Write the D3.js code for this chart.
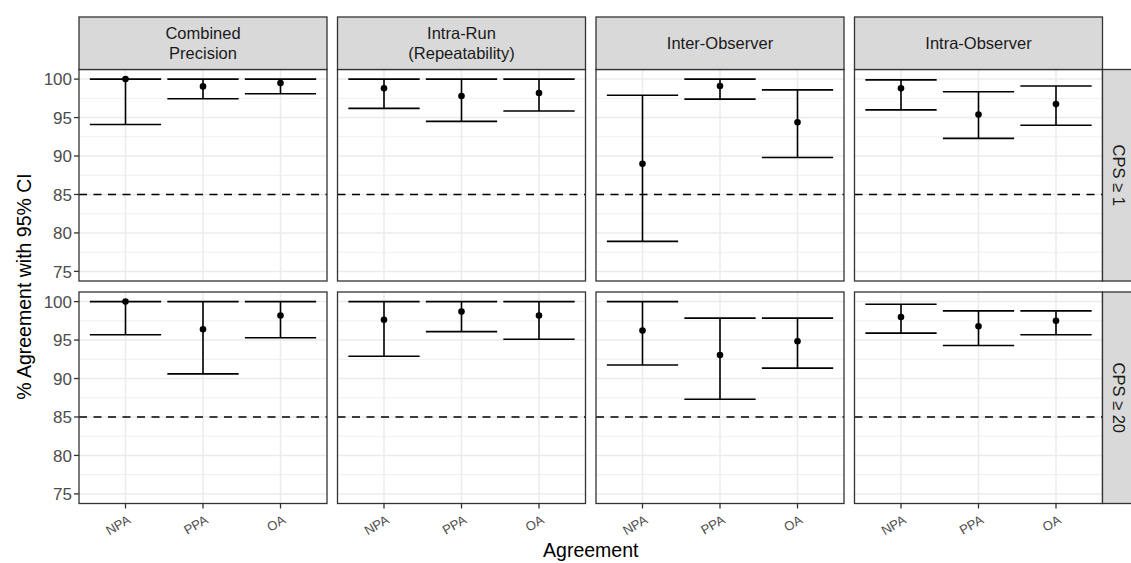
<!DOCTYPE html>
<html><head><meta charset="utf-8">
<script src="https://cdn.jsdelivr.net/npm/d3@7"></script>
<style>body{margin:0;background:#fff}svg{display:block}text{font-family:"Liberation Sans",Arial,sans-serif}</style>
</head><body><svg id="c" width="1131" height="563"></svg>
<script>
// ---- data ----
const facets = ["Combined\nPrecision", "Intra-Run\n(Repeatability)", "Inter-Observer", "Intra-Observer"];
const rowLabels = ["CPS \u2265 1", "CPS \u2265 20"];
const categories = ["NPA", "PPA", "OA"];
const yTicks = [75, 80, 85, 90, 95, 100];
const threshold = 85;
// CPS >= 1 : one inner array per facet, values for NPA, PPA, OA
const estCPS1 = [[100, 99.05, 99.5], [98.8, 97.8, 98.2], [89.0, 99.1, 94.4], [98.8, 95.4, 96.75]];
const lowCPS1 = [[94.1, 97.45, 98.1], [96.2, 94.5, 95.85], [78.9, 97.4, 89.8], [96.0, 92.3, 94.0]];
const upCPS1  = [[100, 100, 100], [100, 100, 100], [97.9, 100, 98.6], [99.9, 98.35, 99.1]];
// CPS >= 20
const estCPS20 = [[100, 96.4, 98.2], [97.65, 98.7, 98.2], [96.25, 93.05, 94.85], [98.0, 96.8, 97.5]];
const lowCPS20 = [[95.7, 90.6, 95.3], [92.9, 96.1, 95.1], [91.75, 87.3, 91.35], [95.9, 94.3, 95.7]];
const upCPS20  = [[100, 100, 100], [100, 100, 100], [100, 97.85, 97.85], [99.65, 98.8, 98.8]];

const rowsData = [
  {est: estCPS1, low: lowCPS1, up: upCPS1},
  {est: estCPS20, low: lowCPS20, up: upCPS20}
];

// ---- layout ----
const svg = d3.select("#c");
const left0 = 79, panelW = 248, gapX = 10.5;
const top0 = 69.5, panelH = 211.5, gapY = 11;
const stripTop = 17;
const rightStripW = 33;

const x = d3.scalePoint().domain(categories).range([0, panelW]).padding(0.6);
const step = x.step();
const capW = 0.92 * step;
const y = d3.scaleLinear().domain([73.75, 101.25]).range([panelH, 0]);
const minorTicks = [77.5, 82.5, 87.5, 92.5, 97.5];

rowsData.forEach((rd, r) => {
  const py = top0 + r * (panelH + gapY);
  facets.forEach((f, c) => {
    const px = left0 + c * (panelW + gapX);
    const g = svg.append("g").attr("transform", `translate(${px},${py})`);
    g.append("rect").attr("width", panelW).attr("height", panelH).attr("fill", "#fff");
    g.selectAll(".mn").data(minorTicks).enter().append("line")
      .attr("x1", 0).attr("x2", panelW).attr("y1", d => y(d)).attr("y2", d => y(d))
      .attr("stroke", "#EBEBEB").attr("stroke-width", 0.8);
    g.selectAll(".mj").data(yTicks).enter().append("line")
      .attr("x1", 0).attr("x2", panelW).attr("y1", d => y(d)).attr("y2", d => y(d))
      .attr("stroke", "#EBEBEB").attr("stroke-width", 1.5);
    g.selectAll(".vx").data(categories).enter().append("line")
      .attr("x1", d => x(d)).attr("x2", d => x(d)).attr("y1", 0).attr("y2", panelH)
      .attr("stroke", "#EBEBEB").attr("stroke-width", 1.5);
    g.append("line").attr("x1", 0).attr("x2", panelW).attr("y1", y(threshold)).attr("y2", y(threshold))
      .attr("stroke", "#000").attr("stroke-width", 1.4).attr("stroke-dasharray", "8,6.5");
    const pts = categories.map((k, i) => ({k, est: rd.est[c][i], lo: rd.low[c][i], hi: rd.up[c][i]}));
    const eb = g.selectAll(".eb").data(pts).enter().append("g");
    eb.append("path")
      .attr("d", d => `M${x(d.k) - capW / 2},${y(d.hi)}H${x(d.k) + capW / 2}M${x(d.k)},${y(d.hi)}V${y(d.lo)}M${x(d.k) - capW / 2},${y(d.lo)}H${x(d.k) + capW / 2}`)
      .attr("fill", "none").attr("stroke", "#000").attr("stroke-width", 1.6);
    eb.append("circle").attr("cx", d => x(d.k)).attr("cy", d => y(d.est)).attr("r", 3.3).attr("fill", "#000");
    g.append("rect").attr("width", panelW).attr("height", panelH).attr("fill", "none")
      .attr("stroke", "#333333").attr("stroke-width", 1.3);
    if (c === 0) {
      const ya = g.append("g");
      ya.selectAll("line").data(yTicks).enter().append("line")
        .attr("x1", -5).attr("x2", 0).attr("y1", d => y(d)).attr("y2", d => y(d))
        .attr("stroke", "#333333").attr("stroke-width", 1.3);
      ya.selectAll("text").data(yTicks).enter().append("text")
        .attr("x", -7).attr("y", d => y(d)).attr("dy", "0.36em").attr("text-anchor", "end")
        .attr("font-size", 17).attr("fill", "#4D4D4D").text(d => d);
    }
    if (r === rowsData.length - 1) {
      const xa = g.append("g").attr("transform", `translate(0,${panelH})`);
      xa.selectAll("line").data(categories).enter().append("line")
        .attr("x1", d => x(d)).attr("x2", d => x(d)).attr("y1", 0).attr("y2", 5)
        .attr("stroke", "#333333").attr("stroke-width", 1.3);
      xa.selectAll("text").data(categories).enter().append("text")
        .attr("transform", d => `translate(${x(d) + 6},${19}) rotate(-30)`)
        .attr("text-anchor", "end").attr("font-size", 13).attr("fill", "#4D4D4D").text(d => d);
    }
    if (r === 0) {
      const sh = top0 - stripTop;
      const s = svg.append("g").attr("transform", `translate(${px},${stripTop})`);
      s.append("rect").attr("width", panelW).attr("height", sh).attr("fill", "#D9D9D9")
        .attr("stroke", "#333333").attr("stroke-width", 1.3);
      const lines = f.split("\n");
      const lh = 20;
      lines.forEach((ln, i) => {
        s.append("text").attr("x", panelW / 2)
          .attr("y", sh / 2 + (i - (lines.length - 1) / 2) * lh)
          .attr("dy", "0.36em").attr("text-anchor", "middle").attr("font-size", 16.5)
          .attr("fill", "#1A1A1A").text(ln);
      });
    }
  });
  const sx = left0 + facets.length * panelW + (facets.length - 1) * gapX;
  const s = svg.append("g").attr("transform", `translate(${sx},${py})`);
  s.append("rect").attr("width", rightStripW).attr("height", panelH).attr("fill", "#D9D9D9")
    .attr("stroke", "#333333").attr("stroke-width", 1.3);
  s.append("text").attr("transform", `translate(${16},${panelH / 2}) rotate(90)`)
    .attr("text-anchor", "middle").attr("dy", "0.36em").attr("font-size", 16.5).attr("fill", "#1A1A1A")
    .text(rowLabels[r]);
});

const totalRight = left0 + facets.length * panelW + (facets.length - 1) * gapX;
svg.append("text").attr("x", (left0 + totalRight) / 2).attr("y", 557)
  .attr("text-anchor", "middle").attr("font-size", 19.5).attr("fill", "#000").text("Agreement");
const bottom = top0 + 2 * panelH + gapY;
svg.append("text").attr("transform", `translate(31,${(top0 + bottom) / 2}) rotate(-90)`)
  .attr("text-anchor", "middle").attr("font-size", 19.5).attr("fill", "#000").text("% Agreement with 95% CI");
</script></body></html>
